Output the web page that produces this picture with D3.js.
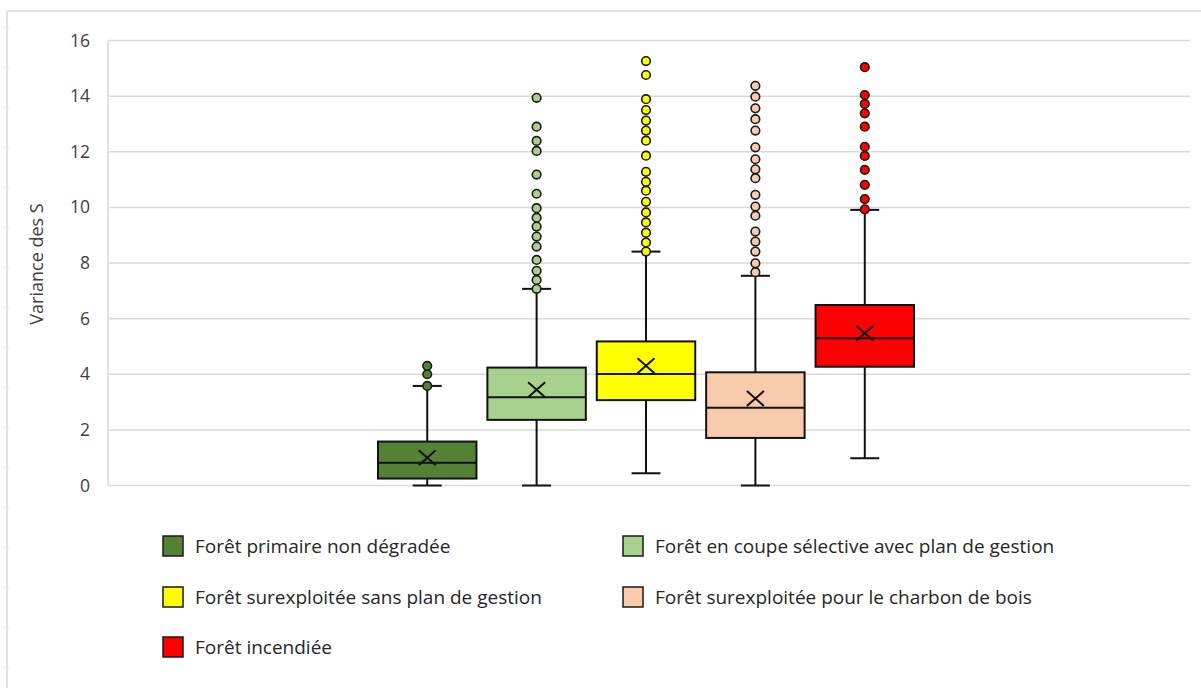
<!DOCTYPE html>
<html><head><meta charset="utf-8">
<script src="https://cdn.jsdelivr.net/npm/d3@7"></script>
<style>body{margin:0;background:#fff;}svg{display:block;font-family:"Open Sans",Calibri,sans-serif;}</style>
</head><body>
<svg id="c" width="1201" height="688"></svg>
<script>
const series = ["Forêt primaire non dégradée","Forêt en coupe sélective avec plan de gestion","Forêt surexploitée sans plan de gestion","Forêt surexploitée pour le charbon de bois","Forêt incendiée"];
const colors = ["#548235","#a9d18e","#ffff00","#f8cbad","#ff0000"];
const q1 = [0.25, 2.36, 3.07, 1.71, 4.27];
const median = [0.82, 3.17, 4.01, 2.80, 5.29];
const q3 = [1.58, 4.24, 5.18, 4.07, 6.49];
const mean = [1.0, 3.44, 4.31, 3.13, 5.47];
const whiskerLow = [0, 0, 0.44, 0, 0.98];
const whiskerHigh = [3.58, 7.07, 8.41, 7.54, 9.91];
const outliers = [
  [3.58, 4.0, 4.30],
  [7.07, 7.39, 7.72, 8.11, 8.59, 8.95, 9.31, 9.63, 9.97, 10.49, 11.18, 12.03, 12.39, 12.90, 13.94],
  [8.41, 8.74, 9.09, 9.46, 9.82, 10.20, 10.60, 10.92, 11.28, 11.86, 12.40, 12.76, 13.12, 13.50, 13.89, 14.76, 15.26],
  [7.67, 7.99, 8.41, 8.77, 9.13, 9.70, 10.03, 10.45, 11.05, 11.37, 11.73, 12.16, 12.76, 13.17, 13.56, 13.98, 14.37],
  [9.93, 10.30, 10.81, 11.35, 11.85, 12.18, 12.90, 13.38, 13.72, 14.04, 15.04]
];
const yTicks = [0,2,4,6,8,10,12,14,16];
const yTitle = "Variance des S";

const svg = d3.select("#c");
const W = 1201, H = 688;
const plot = {left:108, right:1190, top:40.5, bottom:485.5};

// outer chart frame
svg.append("line").attr("x1",7).attr("x2",W).attr("y1",11).attr("y2",11).attr("stroke","#d9d9d9").attr("stroke-width",1.5);
svg.append("line").attr("x1",7).attr("x2",7).attr("y1",11).attr("y2",H).attr("stroke","#d9d9d9").attr("stroke-width",1.5);
d3.range(27, H, 40).forEach(v=>{
  svg.append("line").attr("x1",4).attr("x2",9).attr("y1",v).attr("y2",v).attr("stroke","#e3e3e3").attr("stroke-width",1);
});

const y = d3.scaleLinear().domain([0,16]).range([plot.bottom, plot.top]);
const xCat = d3.scaleBand().domain(["all"]).range([plot.left, plot.right]).paddingInner(0).paddingOuter(0);
const groupW = 536;
const cx = xCat("all") + xCat.bandwidth()/2 - 3;
const x = d3.scaleBand().domain(series).range([cx - groupW/2, cx + groupW/2]).paddingInner(0.1).paddingOuter(0);

// grid
svg.append("g").selectAll("line").data(yTicks).join("line")
  .attr("x1", plot.left).attr("x2", plot.right)
  .attr("y1", d=>y(d)).attr("y2", d=>y(d))
  .attr("stroke","#d9d9d9").attr("stroke-width",1.5);
svg.append("line").attr("x1",plot.left).attr("x2",plot.left).attr("y1",plot.top).attr("y2",plot.bottom).attr("stroke","#d9d9d9").attr("stroke-width",1.5);

// y axis
const yAxis = svg.append("g").attr("transform",`translate(${plot.left},0)`)
  .call(d3.axisLeft(y).tickValues(yTicks).tickSize(0).tickPadding(18).tickFormat(d3.format("d")));
yAxis.select(".domain").remove();
yAxis.selectAll("text").attr("font-size",17.5).attr("fill","#404040").attr("font-family","'Open Sans',sans-serif");

svg.append("text").attr("transform",`translate(43,264) rotate(-90)`)
  .attr("text-anchor","middle").attr("font-size",18).attr("fill","#404040").text(yTitle);

// boxes
const capW = 29;
series.forEach((s,i)=>{
  const bx = x(s), bw = x.bandwidth(), mx = bx + bw/2;
  const g = svg.append("g");
  g.append("line").attr("x1",mx).attr("x2",mx).attr("y1",y(q3[i])).attr("y2",y(whiskerHigh[i])).attr("stroke","#111").attr("stroke-width",2);
  g.append("line").attr("x1",mx).attr("x2",mx).attr("y1",y(q1[i])).attr("y2",y(whiskerLow[i])).attr("stroke","#111").attr("stroke-width",2);
  g.append("line").attr("x1",mx-capW/2).attr("x2",mx+capW/2).attr("y1",y(whiskerHigh[i])).attr("y2",y(whiskerHigh[i])).attr("stroke","#111").attr("stroke-width",2);
  g.append("line").attr("x1",mx-capW/2).attr("x2",mx+capW/2).attr("y1",y(whiskerLow[i])).attr("y2",y(whiskerLow[i])).attr("stroke","#111").attr("stroke-width",2);
  g.append("rect").attr("x",bx).attr("width",bw).attr("y",y(q3[i])).attr("height",y(q1[i])-y(q3[i]))
    .attr("fill",colors[i]).attr("stroke","#111").attr("stroke-width",2);
  g.append("line").attr("x1",bx).attr("x2",bx+bw).attr("y1",y(median[i])).attr("y2",y(median[i])).attr("stroke","#111").attr("stroke-width",2);
  const my = y(mean[i]), hx = 8.5, hy = 7.5;
  g.append("path").attr("d",`M${mx-hx},${my-hy}L${mx+hx},${my+hy}M${mx-hx},${my+hy}L${mx+hx},${my-hy}`)
    .attr("stroke","#111").attr("stroke-width",2).attr("fill","none");
  g.selectAll("circle").data(outliers[i]).join("circle")
    .attr("cx",mx).attr("cy",d=>y(d)).attr("r",4.3)
    .attr("fill",colors[i]).attr("stroke","#1a1a1a").attr("stroke-width",1.6);
});

// legend
const legPos = [[163,546],[623,546],[163,597],[623,597],[163,647]];
series.forEach((s,i)=>{
  const [lx,ly] = legPos[i];
  svg.append("rect").attr("x",lx).attr("y",ly-10).attr("width",20).attr("height",20)
    .attr("fill",colors[i]).attr("stroke","#1a1a1a").attr("stroke-width",1.5);
  svg.append("text").attr("x",lx+32).attr("y",ly).attr("dy","0.35em")
    .attr("font-size",19).attr("fill","#262626").text(s);
});
</script>
</body></html>
